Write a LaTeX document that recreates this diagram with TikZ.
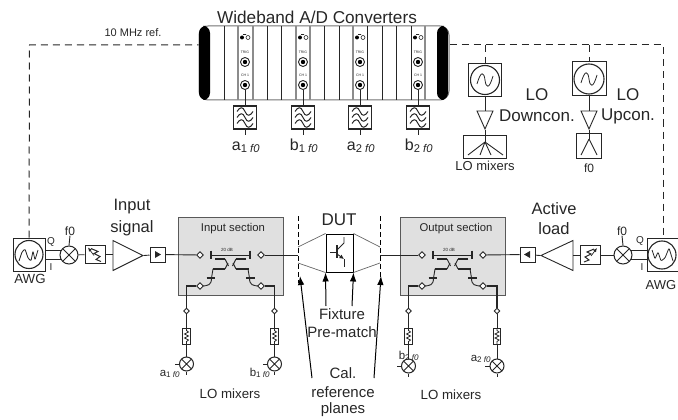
\documentclass[tikz,border=0pt]{standalone}
\usepackage{fontspec}
\setmainfont{Liberation Sans}
\usetikzlibrary{shapes.geometric,arrows.meta}
\definecolor{ink}{HTML}{262626}
\definecolor{secgray}{HTML}{E0E0E0}
\tikzset{
  wire/.style={draw=ink,line width=0.9pt},
  busline/.style={draw=ink,line width=1.6pt},
  refline/.style={draw=ink,line width=1pt,dash pattern=on 7pt off 5pt},
  plane/.style={draw=black,line width=0.8pt,dash pattern=on 5pt off 3pt},
  callout/.style={draw=black,line width=1pt,-{Latex[length=9pt,width=6.5pt]}},
  label/.style={text=ink,inner sep=0pt,font=\fontsize{#1}{#1}\selectfont},
  unit/.style={draw=ink,line width=1pt,inner sep=0pt},
  mixer/.style={circle,draw=ink,line width=1pt,inner sep=0pt,minimum size=#1,
    path picture={\draw[ink,line width=0.9pt] (path picture bounding box.north west) -- (path picture bounding box.south east)
      (path picture bounding box.north east) -- (path picture bounding box.south west);}},
  port/.style={diamond,draw=ink,fill=white,line width=0.9pt,inner sep=0pt,minimum size=7pt},
  section/.style={draw=black!65,fill=secgray,line width=1pt,inner sep=0pt,minimum width=105pt,minimum height=78pt},
  amp/.style={isosceles triangle,isosceles triangle apex angle=53,isosceles triangle stretches,draw=ink,line width=0.9pt,inner sep=0pt,minimum width=#1},
  dial/.style={circle,draw=ink,line width=1.1pt,inner sep=0pt,minimum size=#1},
  coupler/.pic={
    \draw[wire,line width=0.7pt] (-19.5,0) -- (19.5,0);
    \foreach \s in {1,-1} {
      \draw[wire,line width=1.3pt] (\s*19.5,-4.5) -- (\s*19.5,4);
      \draw[wire,line width=1.3pt] (\s*24,23) -- (\s*15.5,23);
      \draw[wire,line width=1.5pt] (\s*18,14) -- (\s*5.5,14);
      \draw[wire,line width=1.5pt] (\s*15.5,4) -- (\s*5.5,4);
      \draw[wire] (\s*30,31) .. controls (\s*22,31) and (\s*19,30) .. (\s*19,23);
      \draw[wire] (\s*19,23) -- (\s*17.5,14);
      \draw[wire] (\s*5.5,4) -- (\s*2,11);
      \draw[wire] (\s*5.5,14) -- (\s*2.5,8);
    }
  },
  varatt/.pic={
    \draw[ink,line width=1pt] (-4,-6) -- (3,-3) -- (-1,-1) -- (5,2) -- (1,5) -- (6,7);
    \draw[ink,line width=0.7pt,-{Latex[length=4pt,width=3.5pt]}] (-1,1) -- (-7,-7);
  },
  padsym/.pic={
    \draw[ink,line width=0.8pt] (0,-8) -- (0,-5.5) -- (2,-4) -- (-2,-2) -- (2,0) -- (-2,2) -- (2,4) -- (0,5.5) -- (0,8);
  },
  filtersym/.pic={
    \foreach \w in {-6,0,6} {
      \draw[ink,line width=1pt] (-8,\w) .. controls (-5,\w-5) and (-2,\w-5) .. (0,\w) .. controls (2,\w+5) and (5,\w+5) .. (8,\w);
    }
  }
}
\begin{document}
\begin{tikzpicture}[x=1pt,y=-1pt]
  \useasboundingbox (0,0) rectangle (678,420);

  % converter rack
  \node[label=17.2] (adtitle) at (317,17) {Wideband A/D Converters};
  \node[draw=black!55,fill=white,line width=1pt,rounded corners=9pt,inner sep=0pt,minimum width=250pt,minimum height=74pt] (rack) at (324,63) {};
  \fill[black] (210,26) [rounded corners=7pt] -- (199,26) -- (199,100) -- (210,100) -- cycle;
  \fill[black] (437,26) [rounded corners=7pt] -- (448,26) -- (448,100) -- (437,100) -- cycle;
  \foreach \x in {224,267,281,324,339,367,382,396,411} {
    \draw[ink,line width=1pt] (\x,26) -- (\x,100);
  }
  \foreach \x in {238,253,296,310,353,425} {
    \draw[black!45,line width=1.3pt] (\x,26) -- (\x,100);
  }
  \foreach \nm/\x/\sym/\sb in {a1/245/a/1,b1/303/b/1,a2/360/a/2,b2/418/b/2} {
    \fill[black] (\x-3,37.5) circle (2);
    \draw[ink,line width=0.6pt] (\x-2,34.5) -- (\x+1,34.5) (\x+3,37.5) circle (2);
    \node[label=3.5] at (\x,52) {TRIG};
    \node[label=3.5] at (\x,75) {CH 1};
    \node[dial=9pt,line width=0.9pt,fill=white] at (\x,62) {};
    \fill[black] (\x,62) circle (2.2);
    \node[dial=9pt,line width=0.9pt,fill=white] (\nm adc) at (\x,85) {};
    \fill[black] (\x,85) circle (2.2);
    \node[unit,line width=1.4pt,minimum size=23pt] (\nm filt) at (\x,117.5) {};
    \pic at (\nm filt) {filtersym};
    \coordinate (\nm out) at (\x,135);
    \draw[wire] (\nm adc) -- (\nm filt);
    \draw[wire] (\nm filt) -- (\nm out);
    \node[label=16,anchor=base] (\nm name) at (\x+1,150) {\sym\textsubscript{\sb{} \textit{f0}}};
  }

  % reference line
  \node[label=11] (mhz) at (133,33) {10 MHz ref.};

  % LO sources
  \node[unit,minimum size=33pt] (losrcd) at (485,80) {};
  \node[dial=29pt] at (losrcd) {};
  \draw[ink,line width=0.8pt] (477,84) .. controls (481,70) and (484,72) .. (485,80) .. controls (486,88) and (489,90) .. (493,76);
  \node[unit,minimum size=34pt] (losrcu) at (589,79) {};
  \node[dial=30pt] at (losrcu) {};
  \draw[ink,line width=0.8pt] (581,83) .. controls (585,69) and (588,71) .. (589,79) .. controls (590,87) and (593,89) .. (597,75);
  \node[amp=16pt,shape border rotate=270,minimum height=18pt,anchor=apex] (ampd) at (485,130) {};
  \node[amp=16pt,shape border rotate=270,minimum height=18pt,anchor=apex] (ampu) at (589,130) {};
  \node[unit,minimum width=43pt,minimum height=23pt] (splitd) at (485,146.5) {};
  \node[unit,minimum width=25pt,minimum height=25pt] (splitu) at (588.5,145.5) {};
  \coordinate (fand) at (485,142);
  \coordinate (fanu) at (589,139);
  \foreach \dx in {-17,-5,6,18} {
    \draw[wire] (fand) -- (485+\dx,155);
  }
  \draw[wire] (fanu) -- (581,155);
  \draw[wire] (fanu) -- (597,155);
  \draw[wire] (losrcd) -- (ampd.lower side);
  \draw[wire] (losrcu) -- (ampu.lower side);
  \draw[wire] (ampd.apex) -- (fand);
  \draw[wire] (ampu.apex) -- (fanu);
  \node[label=13] (lomixtop) at (485,166) {LO mixers};
  \node[label=12] (f0top) at (589,168) {f0};
  \node[label=17] (lod) at (537,95) {LO};
  \node[label=17] (downc) at (537,116) {Downcon.};
  \node[label=17] (lou) at (628,95) {LO};
  \node[label=17] (upc) at (628,116) {Upcon.};

  % signal chain
  \node[unit,minimum width=32pt,minimum height=33pt] (awgl) at (29,254.5) {};
  \node[dial=28pt] (awgldial) at (awgl) {};
  \draw[ink,line width=0.8pt,rounded corners=1pt] (19,261) -- (22,252) -- (25,249) -- (28,258) -- (31,261) -- (33,251) -- (35,260) -- (38,250);
  \node[label=10] (ql) at (51,242) {Q};
  \node[label=10] (il) at (51,267) {I};
  \node[label=13.3] (awgltext) at (30,279) {AWG};
  \node[mixer=18pt] (mixl) at (69,255) {};
  \node[label=12] (f0l) at (70,231) {f0};
  \node[unit,minimum width=20pt,minimum height=18pt] (attl) at (95,254.5) {};
  \pic at (attl) {varatt};
  \node[amp=30pt,minimum height=30pt,anchor=apex] (ampl) at (144,255.5) {};
  \node[unit,minimum size=15pt] (isol) at (157.5,254.5) {};
  \fill[ink] (155,251) -- (161,254.5) -- (155,258) -- cycle;
  \node[label=16.5] (inputtxt) at (132,207) {Input};
  \node[label=16.5] (signaltxt) at (132,228) {signal};

  \node[section] (insec) at (230.5,256) {};
  \node[label=11.3] (intxt) at (233,229) {Input section};
  \pic at (230.5,255) {coupler};
  \node[label=4.5] (db1) at (227,250) {20 dB};

  \coordinate (planel) at (298,255);
  \coordinate (planer) at (380,255);
  \node[unit,draw=black,line width=1pt,minimum width=27pt,minimum height=38pt] (dutbox) at (339.5,253) {};
  \node[label=17] (duttxt) at (339,220) {DUT};
  \draw[black!60,line width=0.7pt] (planel) ++(0,-8) -- (dutbox.north west);
  \draw[black!60,line width=0.7pt] (planel) ++(0,8) -- (dutbox.south west);
  \draw[black!60,line width=0.7pt] (planer) ++(0,-8) -- (dutbox.north east);
  \draw[black!60,line width=0.7pt] (planer) ++(0,8) -- (dutbox.south east);
  \draw[ink,line width=0.9pt] (330,252) -- (337,252);
  \draw[ink,line width=1.3pt] (337,245) -- (337,258);
  \draw[ink,line width=0.9pt] (337,250) -- (344,243) -- (344,237);
  \draw[ink,line width=0.9pt,-{Latex[length=4.5pt,width=4.5pt]}] (337,254) -- (344,259);
  \draw[ink,line width=0.9pt] (344,259) -- (344,267);

  \node[section] (outsec) at (452.5,256) {};
  \node[label=11.3] (outtxt) at (456,229) {Output section};
  \pic at (452.5,255) {coupler};
  \node[label=4.5] (db2) at (449,250) {20 dB};

  \node[unit,minimum size=15pt] (isor) at (527.5,254.5) {};
  \fill[ink] (530,251) -- (524,254.5) -- (530,258) -- cycle;
  \node[amp=30pt,minimum height=32pt,shape border rotate=180,anchor=apex] (ampr) at (540,255.5) {};
  \node[unit,minimum width=20pt,minimum height=19pt] (attr) at (590,255) {};
  \pic[xscale=-1] at (attr) {varatt};
  \node[mixer=18pt] (mixr) at (623,255) {};
  \node[label=12] (f0r) at (622,231) {f0};
  \node[unit,minimum width=31pt,minimum height=33pt] (awgr) at (662.5,254.5) {};
  \node[dial=28pt] (awgrdial) at (662,255) {};
  \draw[ink,line width=0.8pt,rounded corners=1pt] (652,250) -- (655,259) -- (658,252) -- (661,261) -- (665,258) -- (669,248) -- (673,261);
  \node[label=10] (qr) at (640,241) {Q};
  \node[label=10] (ir) at (642,267) {I};
  \node[label=13] (awgrtext) at (661,285) {AWG};
  \node[label=16.5] (activetxt) at (554,209) {Active};
  \node[label=16.5] (loadtxt) at (554,229) {load};

  \node[port] (inl) at (200,255) {};
  \node[port] (inr) at (261,255) {};
  \node[port] (outl) at (422,255) {};
  \node[port] (outr) at (483,255) {};
  \draw[wire] (awgl.east |- mixl.150) -- (mixl.150);
  \draw[wire] (awgl.east |- mixl.210) -- (mixl.210);
  \draw[wire] (mixl.north) -- (f0l.south);
  \draw[wire] (mixl) -- (attl);
  \draw[wire] (attl) -- (ampl.lower side |- attl);
  \draw[wire] (ampl.apex) -- (isol);
  \draw[wire] (isol) -- (inl);
  \draw[wire] (inr) -- (planel);
  \draw[wire] (planer) -- (outl);
  \draw[wire] (outr) -- (isor);
  \draw[wire] (isor) -- (ampr.apex);
  \draw[wire] (ampr.lower side |- attr) -- (attr);
  \draw[wire] (attr) -- (mixr);
  \draw[wire] (awgr.west |- mixr.30) -- (mixr.30);
  \draw[wire] (awgr.west |- mixr.330) -- (mixr.330);
  \draw[wire] (mixr.north) -- (f0r.south);

  % dashed reference wiring
  \coordinate (reftopl) at (29.5,45);
  \coordinate (reftopr) at (663,45);
  \draw[refline] (awgl.north) -- (reftopl) -- (rack.west |- reftopl);
  \draw[refline] (rack.east |- reftopr) -- (reftopr) -- (reftopr |- awgr.north);
  \draw[refline] (485,45) -- (losrcd.north);
  \draw[refline] (589,45) -- (losrcu.north);

  % calibration planes
  \coordinate (pltopl) at (298,216);
  \coordinate (plbotl) at (298,283);
  \coordinate (pltopr) at (380,216);
  \coordinate (plbotr) at (380,283);
  \draw[plane] (pltopl) -- (plbotl);
  \draw[plane] (pltopr) -- (plbotr);
  \node[label=15] (fixt) at (342,314) {Fixture};
  \node[label=15] (prem) at (342,332) {Pre-match};
  \node[label=15] (caltxt) at (343,373) {Cal.};
  \node[label=15] (reftxt) at (343,392) {reference};
  \node[label=15] (planetxt) at (343,410) {planes};
  \coordinate (calla) at (312,378);
  \coordinate (callb) at (374,378);
  \coordinate (tipa) at (300,276);
  \coordinate (tipb) at (381,276);
  \draw[callout] (326,306) -- (dutbox.south west);
  \draw[callout] (352,306) -- (dutbox.south east);
  \draw[callout] (calla) -- (tipa);
  \draw[callout] (callb) -- (tipb);

  % LO mixer branches
  \foreach \nm/\xa/\xb/\ya in {a1/200/186.5/364,b1/261/274.5/364,b2/422/408.5/366,a2/483/497/366} {
    \node[port] (\nm port) at (\xa,286) {};
    \node[port,minimum size=6pt] (\nm tap) at (\xb,311) {};
    \node[unit,line width=0.9pt,minimum width=7.5pt,minimum height=16pt] (\nm pad) at (\xb,336) {};
    \pic at (\nm pad) {padsym};
    \node[mixer=14pt] (\nm mix) at (\xb,\ya) {};
    \coordinate (\nm lo) at (\xb-12,\ya);
    \coordinate (\nm if) at (\xb,\ya+11);
    \draw[busline] (\nm port) -| (\nm tap);
    \draw[wire] (\nm tap) -- (\nm pad);
    \draw[wire] (\nm pad) -- (\nm mix);
    \draw[wire] (\nm mix) -- (\nm lo);
    \draw[wire] (\nm mix) -- (\nm if);
  }
  \node[label=11.5,anchor=base] (a1low) at (170,376) {a\textsubscript{1 \textit{f0}}};
  \node[label=11.5,anchor=base] (b1low) at (260,376) {b\textsubscript{1 \textit{f0}}};
  \node[label=11.5,anchor=base] (b2low) at (409,359) {b\textsubscript{2 \textit{f0}}};
  \node[label=11.5,anchor=base] (a2low) at (481,361) {a\textsubscript{2 \textit{f0}}};
  \node[label=13.3] (lomixl) at (230,394) {LO mixers};
  \node[label=13.3] (lomixr) at (451,395) {LO mixers};
\end{tikzpicture}
\end{document}
